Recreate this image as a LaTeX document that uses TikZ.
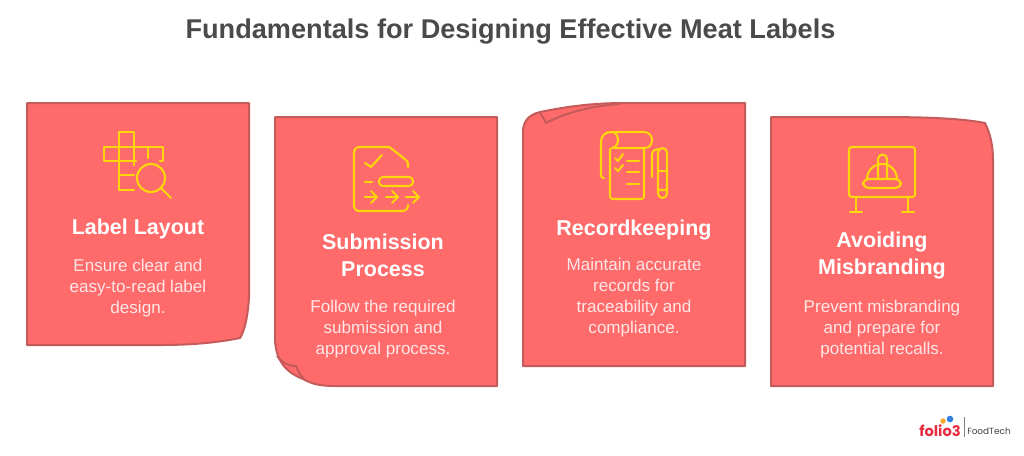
\documentclass[tikz,border=0pt]{standalone}
\usepackage{fontspec}
\setmainfont{Liberation Sans}
\newfontfamily\logofont{Poppins}
\definecolor{cardfill}{HTML}{FF6B6B}
\definecolor{cardedge}{HTML}{C45A5A}
\definecolor{iconcol}{HTML}{FFD60A}
\definecolor{titlecol}{HTML}{4A4A4A}
\definecolor{bodycol}{HTML}{FFE6E6}
\definecolor{logored}{HTML}{E82C3F}
\definecolor{logoorange}{HTML}{F7A823}
\definecolor{logoblue}{HTML}{2F7FE0}
\tikzset{
  card/.style={fill=cardfill,draw=cardedge,line width=1.5pt,line join=round},
  fold/.style={draw=cardedge,line width=1.5pt,line join=round},
  icon/.style={draw=iconcol,line width=1.55pt,line cap=round,line join=round},
  headtext/.style={text=white,align=center,font=\bfseries\fontsize{16.1}{20.6}\selectfont,inner sep=0pt},
  bodytext/.style={text=bodycol,align=center,font=\fontsize{12.8}{15.75}\selectfont,inner sep=0pt},
}
\begin{document}
\begin{tikzpicture}[x=0.75pt,y=-0.75pt]
\useasboundingbox (0,0) rectangle (1024,455);
\node[text=titlecol,font=\bfseries\fontsize{20.35}{25}\selectfont,inner sep=0pt] (title) at (510.5,32) {Fundamentals for Designing Effective Meat Labels};

% card 1
\path[card] (27,103) -- (249,103) -- (249,297) .. controls (248,315) and (245,330) .. (240,338) .. controls (215,343) and (190,345) .. (160,345) -- (27,345) -- cycle;
% card 2
\path[card] (275,117) -- (497,117) -- (497,386) -- (335,386) .. controls (320,386) and (312,384) .. (303,379) .. controls (285,372) and (276,360) .. (275,340) -- cycle;
\path[fold] (277,356) .. controls (283,364) and (290,366) .. (296,366) .. controls (298,371) and (300,375) .. (304,379);
% card 3
\path[card] (745,103) -- (745,366) -- (523,366) -- (523,132) .. controls (523,122) and (528,115) .. (540,112) .. controls (565,107) and (590,103) .. (625,103) -- cycle;
\path[fold] (540,112.5) .. controls (542,116) and (544,119) .. (546,123) .. controls (565,113) and (590,106) .. (620,104);
% card 4
\path[card] (771,117) -- (880,117) .. controls (920,117) and (960,118) .. (985,123) .. controls (990,133) and (993,145) .. (993,160) -- (993,386) -- (771,386) -- cycle;

% icon 1
\draw[icon] (119,190) -- (119,132) -- (134,132) -- (134,165);
\draw[icon] (136,161) -- (104,161) -- (104,147) -- (163,147) -- (163,161) -- (160,161);
\draw[icon] (148,147) -- (148,158);
\draw[icon] (119,175) -- (134,175);
\draw[icon] (119,190) -- (134,190);
\draw[icon] (151,178) circle (14);
\draw[icon] (161,188) -- (171,198);

% icon 2
\draw[icon] (408,167) -- (408,164) .. controls (408,162) and (407,161) .. (406,160) -- (392,149) .. controls (390,147) and (389,147) .. (387,147) -- (360,147) .. controls (356,147) and (354,149) .. (354,153) -- (354,205) .. controls (354,209) and (356,211) .. (360,211) -- (402,211) .. controls (406,211) and (408,209) .. (408,205);
\draw[icon] (365,163) -- (371,167) -- (382,155);
\draw[icon] (365,182) -- (372,182);
\draw[icon,rounded corners=3] (379,177) rectangle (413,186);
\foreach \xa/\xb in {365/377,386/398,406/419}{
  \draw[icon] (\xa,197) -- (\xb,197);
  \draw[icon] (\xb-6,191) -- (\xb,197) -- (\xb-6,203);
}

% icon 3
\draw[icon] (604,178) .. controls (602,178) and (601,177) .. (601,175) -- (601,142) .. controls (601,136) and (605,132) .. (611,132) -- (644,132) .. controls (649,132) and (652,136) .. (652,140) .. controls (652,145) and (649,148) .. (644,148) -- (612,148);
\draw[icon] (611,132) .. controls (616,132) and (618,136) .. (618,140) .. controls (618,144) and (616,147) .. (612,148);
\draw[icon,rounded corners=2] (610,149) -- (610,199) -- (644,199) -- (644,148);
\draw[icon] (615,158) -- (618,161) -- (623,154);
\draw[icon] (615,168) -- (618,171) -- (623,165);
\draw[icon] (627,161) -- (639,161);
\draw[icon] (627,172) -- (639,172);
\draw[icon] (627,184) -- (639,184);
\draw[icon] (658,190) -- (658,152.5) arc[start angle=180,end angle=360,radius=4.5] -- (667,193.5) arc[start angle=0,end angle=180,radius=4.5] -- (658,190) -- (667,190);
\draw[icon] (658,171) -- (667,171);
\draw[icon] (652,177) -- (652,155) .. controls (652,151) and (655,149) .. (658,149);

% icon 4
\draw[icon,rounded corners=2] (849,147) rectangle (915,197);
\draw[icon] (856,197) -- (856,212);
\draw[icon] (850,212) -- (862,212);
\draw[icon] (908,197) -- (908,212);
\draw[icon] (902,212) -- (914,212);
\draw[icon,rounded corners=4] (863,179) rectangle (901,188);
\draw[icon] (867,179) arc[start angle=180,end angle=360,radius=15];
\draw[icon] (878,179) -- (878,159) arc[start angle=180,end angle=360,radius=4.5] -- (887,179);

% text
\node[headtext] (h1) at (138,229) {Label Layout};
\node[bodytext] (b1) at (138,288.5) {Ensure clear and\\easy-to-read label\\design.};
\node[headtext] (h2) at (383,255.5) {Submission\\Process};
\node[bodytext] (b2) at (383,329) {Follow the required\\submission and\\approval process.};
\node[headtext] (h3) at (634,230) {Recordkeeping};
\node[bodytext] (b3) at (634,298) {Maintain accurate\\records for\\traceability and\\compliance.};
\node[headtext] (h4) at (882,255.5) {Avoiding\\Misbranding};
\node[bodytext] (b4) at (882,329) {Prevent misbranding\\and prepare for\\potential recalls.};

% logo
\node[text=logored,font=\logofont\bfseries\fontsize{11}{11}\selectfont,inner sep=0pt] (logo) at (940,431) {folio3};
\fill[logoorange] (943,421) circle (2.7);
\fill[logoblue] (950,419) circle (3.3);
\draw[gray,line width=0.5pt] (964,417) -- (964,437);
\node[text=black!75,font=\logofont\fontsize{6.7}{8}\selectfont,inner sep=0pt] (ft) at (989,431) {FoodTech};
\end{tikzpicture}
\end{document}
